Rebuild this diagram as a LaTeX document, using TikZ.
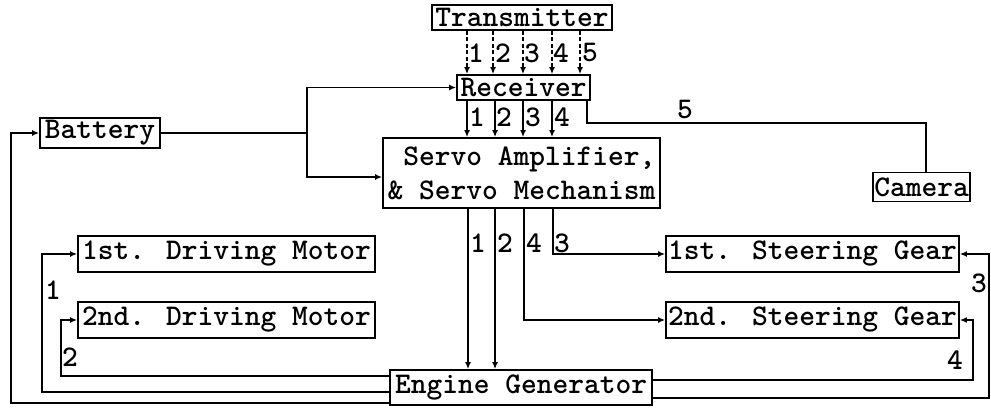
\documentclass[tikz,border=0pt]{standalone}
\usetikzlibrary{arrows.meta}
\begin{document}
\begin{tikzpicture}[x=1pt,y=-1pt,
  txt/.style={font=\ttfamily\bfseries\fontsize{30}{34}\selectfont},
  box/.style={txt,draw,line width=1.8pt,inner sep=0pt},
  wire/.style={line width=1.7pt},
  arr/.style={wire,-{Latex[length=7pt,width=6pt]}},
  dwire/.style={arr,dash pattern=on 4pt off 2.5pt},
  lbl/.style={txt,inner sep=0pt}]
\useasboundingbox (0,0) rectangle (991,409);
% boxes
\node[box,minimum width=180pt,minimum height=25pt] (tx) at (522,17.5) {Transmitter};
\node[box,minimum width=133pt,minimum height=25pt] (rx) at (523.5,87.5) {Receiver};
\node[box,minimum width=120pt,minimum height=30pt] (bat) at (100,133) {Battery};
\node[box,minimum width=277pt,minimum height=70pt,align=right] (servo) at (521.5,173) {Servo Amplifier,\\\& Servo Mechanism};
\node[box,minimum width=97pt,minimum height=29pt] (cam) at (921.5,187) {Camera};
\node[box,minimum width=297pt,minimum height=36pt] (dm1) at (226.5,254) {1st. Driving Motor};
\node[box,minimum width=297pt,minimum height=36pt] (dm2) at (226.5,320) {2nd. Driving Motor};
\node[box,minimum width=293pt,minimum height=36pt] (sg1) at (812.5,254) {1st. Steering Gear};
\node[box,minimum width=293pt,minimum height=36pt] (sg2) at (812.5,320) {2nd. Steering Gear};
\node[box,minimum width=262pt,minimum height=35pt] (eng) at (521,387.5) {Engine Generator};
% columns and rows
\coordinate (t1) at (467,0); \coordinate (t2) at (493,0); \coordinate (t3) at (523,0);
\coordinate (t4) at (552,0); \coordinate (t5) at (580,0);
\coordinate (s1) at (467,0); \coordinate (s2) at (495,0); \coordinate (s3) at (523,0);
\coordinate (s4) at (552,0); \coordinate (s5) at (587,0);
\coordinate (b1) at (468,0); \coordinate (b2) at (495,0); \coordinate (b4) at (524,0);
\coordinate (b3) at (553,0);
\coordinate (cJ) at (307,0); \coordinate (cC) at (926,0);
\coordinate (cL0) at (11,0); \coordinate (cL1) at (42,0); \coordinate (cL2) at (61,0);
\coordinate (cR3) at (989,0); \coordinate (cR4) at (973,0);
\coordinate (r123) at (0,123); \coordinate (r177) at (0,177);
\coordinate (r376) at (0,376); \coordinate (r392) at (0,392); \coordinate (r403) at (0,403);
\coordinate (r380) at (0,380); \coordinate (r398) at (0,398);
% transmitter -> receiver
\foreach \c in {t1,t2,t3,t4,t5}{\draw[dwire] (tx.south-|\c) -- (rx.north-|\c);}
\node[lbl] (l1) at (476,53) {1};
\node[lbl] (l2) at (503,53) {2};
\node[lbl] (l3) at (532,53) {3};
\node[lbl] (l4) at (561,53) {4};
\node[lbl] (l5) at (590,53) {5};
% receiver -> servo
\foreach \c in {s1,s2,s3,s4}{\draw[arr] (rx.south-|\c) -- (servo.north-|\c);}
\node[lbl] (m1) at (477,117) {1};
\node[lbl] (m2) at (504,117) {2};
\node[lbl] (m3) at (533,117) {3};
\node[lbl] (m4) at (562,117) {4};
% receiver -> camera
\draw[wire] (rx.south-|s5) -- (s5|-r123) -| (cam.north-|cC);
\node[lbl] (m5) at (685,110) {5};
% battery
\draw[wire] (bat.east) -- (bat.east-|cJ);
\draw[arr] (bat.east-|cJ) |- (rx.west);
\draw[arr] (bat.east-|cJ) |- (servo.west|-r177);
% servo -> engine and gears
\draw[arr] (servo.south-|b1) -- (eng.north-|b1);
\draw[arr] (servo.south-|b2) -- (eng.north-|b2);
\draw[arr] (servo.south-|b4) |- (sg2.west);
\draw[arr] (servo.south-|b3) |- (sg1.west);
\node[lbl] (n1) at (478,243) {1};
\node[lbl] (n2) at (505,243) {2};
\node[lbl] (n4) at (534,243) {4};
\node[lbl] (n3) at (562,243) {3};
% engine -> left
\draw[arr] (eng.west|-r403) -- (cL0|-r403) |- (bat.west);
\draw[arr] (eng.west|-r392) -- (cL1|-r392) |- (dm1.west);
\draw[arr] (eng.west|-r376) -- (cL2|-r376) |- (dm2.west);
\node[lbl] (k1) at (53,290) {1};
\node[lbl] (k2) at (70,357) {2};
% engine -> right
\draw[arr] (eng.east|-r380) -- (cR4|-r380) |- (sg2.east);
\draw[arr] (eng.east|-r398) -- (cR3|-r398) |- (sg1.east);
\node[lbl] (k3) at (979,283) {3};
\node[lbl] (k4) at (955,360) {4};
\end{tikzpicture}
\end{document}
